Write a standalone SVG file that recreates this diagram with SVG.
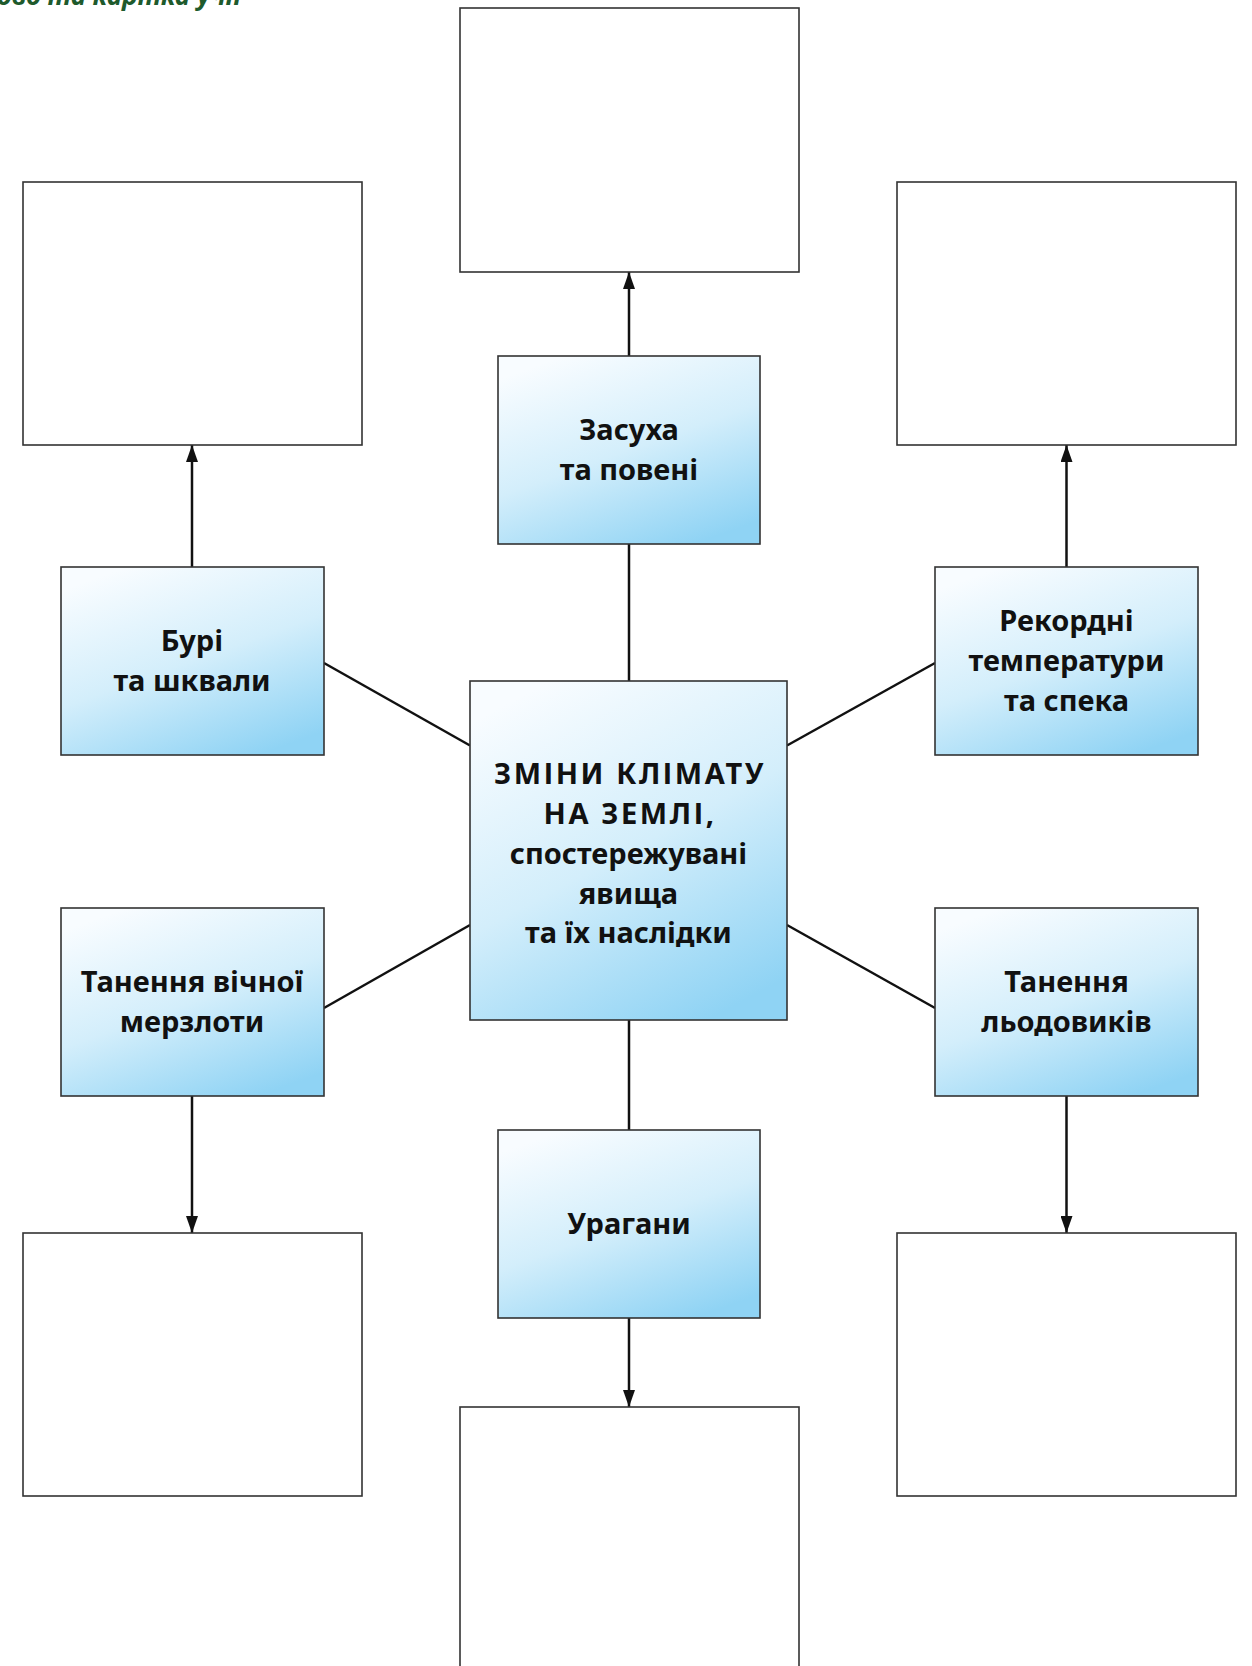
<svg xmlns="http://www.w3.org/2000/svg" width="1252" height="1666" viewBox="0 0 1252 1666">
<defs>
<linearGradient id="blue" x1="0.25" y1="0" x2="0.75" y2="1">
<stop offset="0" stop-color="#f8fcff"/>
<stop offset="0.5" stop-color="#d3eefb"/>
<stop offset="1" stop-color="#8fd3f4"/>
</linearGradient>
<marker id="arr" viewBox="0 0 17 12" refX="17" refY="6" markerWidth="17" markerHeight="12" markerUnits="userSpaceOnUse" orient="auto">
<path d="M0,0 L17,6 L0,12 Z" fill="#111"/>
</marker>
<style>
.empty{fill:#fff;stroke:#333;stroke-width:1.6}
.blue{fill:url(#blue);stroke:#333;stroke-width:1.6}
.t{font-family:"Noto Sans","Open Sans","DejaVu Sans",sans-serif;font-weight:700;font-size:29px;fill:#111;text-anchor:middle}
.caps{letter-spacing:2.6px}
.c line{stroke:#111;stroke-width:2.5}
.title{font-family:"Noto Sans","Open Sans",sans-serif;font-weight:700;font-style:italic;font-size:26px;fill:#1e5a2c}
</style>
</defs>
<rect width="1252" height="1666" fill="#fff"/>
<text class="title" x="-3" y="5">ово та картка учн</text>

<g id="connectors" class="c">
<line x1="629" y1="356" x2="629" y2="272" marker-end="url(#arr)"/>
<line x1="629" y1="543" x2="629" y2="681"/>
<line x1="192" y1="567" x2="192" y2="445" marker-end="url(#arr)"/>
<line x1="1066.5" y1="567" x2="1066.5" y2="445" marker-end="url(#arr)"/>
<line x1="629" y1="1020" x2="629" y2="1130"/>
<line x1="629" y1="1318" x2="629" y2="1407" marker-end="url(#arr)"/>
<line x1="192" y1="1096" x2="192" y2="1233" marker-end="url(#arr)"/>
<line x1="1066.5" y1="1096" x2="1066.5" y2="1233" marker-end="url(#arr)"/>
<line x1="324" y1="663" x2="470" y2="745.5"/>
<line x1="935" y1="663" x2="787" y2="745.5"/>
<line x1="324" y1="1008" x2="470" y2="925"/>
<line x1="935" y1="1008" x2="787" y2="925"/>
</g>

<g id="box-top"><rect class="empty" x="460" y="8" width="339" height="264"/></g>
<g id="box-top-left"><rect class="empty" x="23" y="182" width="339" height="263"/></g>
<g id="box-top-right"><rect class="empty" x="897" y="182" width="339" height="263"/></g>
<g id="box-bottom-left"><rect class="empty" x="23" y="1233" width="339" height="263"/></g>
<g id="box-bottom-right"><rect class="empty" x="897" y="1233" width="339" height="263"/></g>
<g id="box-bottom"><rect class="empty" x="460" y="1407" width="339" height="300"/></g>

<g id="node-drought">
<rect class="blue" x="498" y="356" width="262" height="188"/>
<text class="t" x="629" y="440">Засуха</text>
<text class="t" x="629" y="480">та повені</text>
</g>
<g id="node-storms">
<rect class="blue" x="61" y="567" width="263" height="188"/>
<text class="t" x="192" y="651">Бурі</text>
<text class="t" x="192" y="691">та шквали</text>
</g>
<g id="node-heat">
<rect class="blue" x="935" y="567" width="263" height="188"/>
<text class="t" x="1066.5" y="631">Рекордні</text>
<text class="t" x="1066.5" y="671">температури</text>
<text class="t" x="1066.5" y="711">та спека</text>
</g>
<g id="node-permafrost">
<rect class="blue" x="61" y="908" width="263" height="188"/>
<text class="t" x="192" y="992">Танення вічної</text>
<text class="t" x="192" y="1032">мерзлоти</text>
</g>
<g id="node-glaciers">
<rect class="blue" x="935" y="908" width="263" height="188"/>
<text class="t" x="1066.5" y="992">Танення</text>
<text class="t" x="1066.5" y="1032">льодовиків</text>
</g>
<g id="node-hurricanes">
<rect class="blue" x="498" y="1130" width="262" height="188"/>
<text class="t" x="629" y="1234">Урагани</text>
</g>
<g id="node-center">
<rect class="blue" x="470" y="681" width="317" height="339"/>
<text class="t caps" x="630" y="784">ЗМІНИ КЛІМАТУ</text>
<text class="t caps" x="630" y="824">НА ЗЕМЛІ,</text>
<text class="t" x="628.5" y="864">спостережувані</text>
<text class="t" x="628.5" y="903.5">явища</text>
<text class="t" x="628.5" y="943">та їх наслідки</text>
</g>
</svg>
